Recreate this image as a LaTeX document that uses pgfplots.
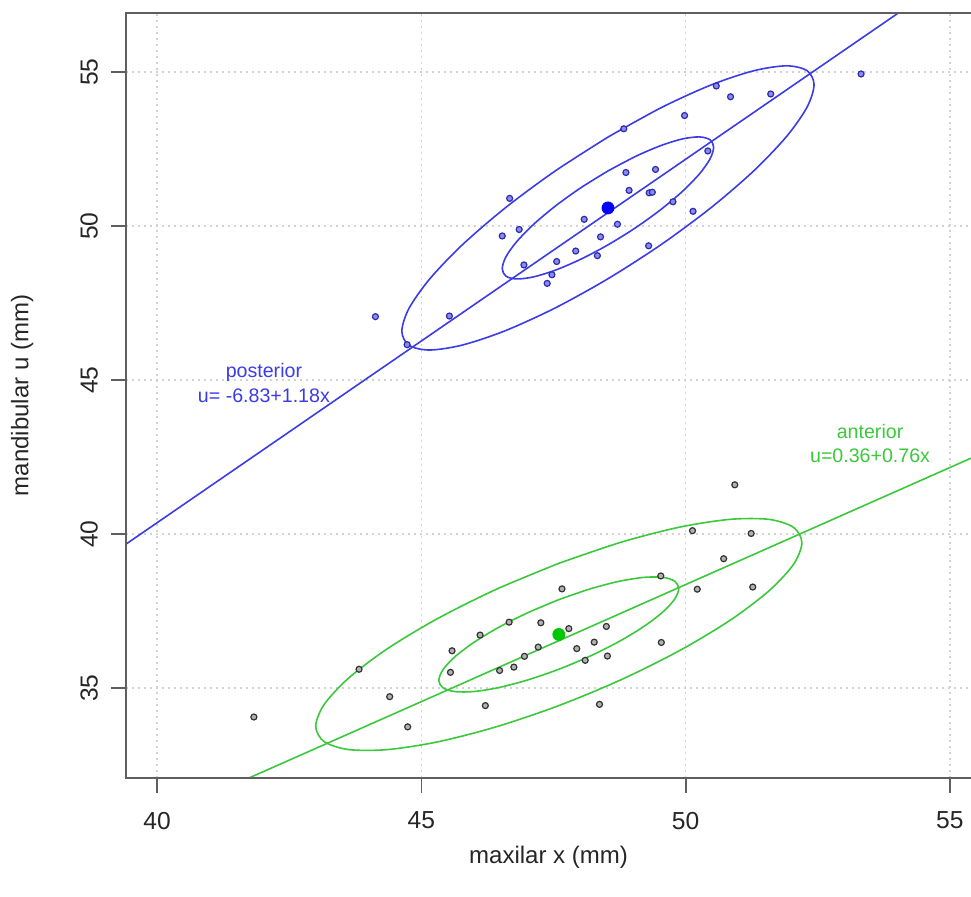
\documentclass[border=0pt]{standalone}
\usepackage{pgfplots}
\pgfplotsset{compat=1.18}
\usepackage{fontspec}
\setmainfont{Liberation Sans}
\definecolor{post}{RGB}{60,60,230}
\definecolor{postmean}{RGB}{0,0,255}
\definecolor{ant}{RGB}{60,200,60}
\definecolor{antmean}{RGB}{0,200,0}
\definecolor{frame}{RGB}{95,95,95}

\begin{document}
\begin{tikzpicture}
\begin{axis}[
  scale only axis, width=422.5pt, height=382.5pt,
  xmin=39.41, xmax=55.40, ymin=32.08, ymax=56.92,
  xtick={40,45,50,55}, ytick={35,40,45,50,55},
  xtick pos=left, ytick pos=left, tick align=outside,
  major tick length=7.5pt,
  tick style={frame, line width=0.9pt},
  axis line style={draw=none},
  grid=major,
  major grid style={gray!35, dash pattern=on 1pt off 2pt, line width=0.8pt},
  /pgf/number format/assume math mode=true,
  ticklabel style={font=\fontsize{12.3}{14}\selectfont, text=black!85},
  xticklabel style={anchor=north, yshift=-6pt},
  yticklabel style={xshift=-3pt, rotate=90, anchor=south},
  xlabel={maxilar x (mm)}, ylabel={mandibular u (mm)},
  label style={font=\fontsize{12}{14}\selectfont, text=black!85},
  xlabel style={at={(axis description cs:0.5,-0.1033)}, anchor=center},
  ylabel style={at={(axis description cs:-0.1230,0.5)}, anchor=center},
]
\coordinate (bbsw) at (rel axis cs:0,0);
\coordinate (bbne) at (rel axis cs:1,1);

% posterior group: regression line, 50% and 95% ellipses
\addplot[post, line width=0.8pt] coordinates {(39.0,39.19) (56.0,59.25)};
\addplot[post, line width=0.8pt, smooth] coordinates {
(48.530,52.890) (47.521,51.777) (46.580,50.582) (45.772,49.388) (45.153,48.276)
(44.763,47.321) (44.630,46.590) (44.763,46.131) (45.153,45.976) (45.772,46.136)
(46.580,46.598) (47.521,47.333) (48.530,48.290) (49.539,49.403) (50.480,50.598)
(51.288,51.792) (51.907,52.904) (52.297,53.859) (52.430,54.590) (52.297,55.049)
(51.907,55.204) (51.288,55.044) (50.480,54.582) (49.539,53.847) (48.530,52.890)};
\addplot[post, line width=0.8pt, smooth] coordinates {
(48.530,51.790) (48.012,51.239) (47.530,50.644) (47.116,50.046) (46.798,49.484)
(46.598,48.998) (46.530,48.620) (46.598,48.376) (46.798,48.284) (47.116,48.348)
(47.530,48.566) (48.012,48.921) (48.530,49.390) (49.048,49.941) (49.530,50.536)
(49.944,51.134) (50.262,51.696) (50.462,52.182) (50.530,52.560) (50.462,52.804)
(50.262,52.896) (49.944,52.832) (49.530,52.614) (49.048,52.259) (48.530,51.790)};

% anterior group
\addplot[ant, line width=0.8pt] coordinates {(41.0,31.52) (56.0,42.92)};
\addplot[ant, line width=0.8pt, smooth] coordinates {
(47.600,39.050) (46.409,38.200) (45.300,37.250) (44.347,36.266) (43.616,35.314)
(43.157,34.460) (43.000,33.760) (43.157,33.264) (43.616,33.004) (44.347,33.000)
(45.300,33.250) (46.409,33.738) (47.600,34.430) (48.791,35.280) (49.900,36.230)
(50.853,37.214) (51.584,38.166) (52.043,39.020) (52.200,39.720) (52.043,40.216)
(51.584,40.476) (50.853,40.480) (49.900,40.230) (48.791,39.742) (47.600,39.050)};
\addplot[ant, line width=0.8pt, smooth] coordinates {
(47.600,37.870) (47.012,37.445) (46.465,36.974) (45.995,36.485) (45.634,36.015)
(45.407,35.593) (45.330,35.250) (45.407,35.009) (45.634,34.885) (45.995,34.887)
(46.465,35.016) (47.012,35.263) (47.600,35.610) (48.188,36.035) (48.735,36.506)
(49.205,36.995) (49.566,37.465) (49.793,37.889) (49.870,38.230) (49.793,38.471)
(49.566,38.595) (49.205,38.593) (48.735,38.464) (48.188,38.217) (47.600,37.870)};

% observations
\addplot[only marks, mark=*, mark size=1.5pt,
  mark options={draw=post!75!black, fill=post!60!white, line width=0.6pt}] coordinates {
(53.32,54.94) (50.58,54.55) (50.85,54.20) (51.61,54.29) (49.98,53.59)
(48.83,53.16) (50.42,52.44) (48.87,51.74) (49.43,51.84) (48.93,51.16)
(49.31,51.08) (49.37,51.10) (49.76,50.79) (50.14,50.48) (48.08,50.22)
(48.71,50.06) (46.67,50.90) (46.85,49.89) (46.53,49.68) (48.39,49.65)
(49.30,49.36) (47.92,49.19) (48.33,49.04) (47.56,48.85) (46.94,48.74)
(47.47,48.42) (47.38,48.14) (44.13,47.06) (45.53,47.08) (44.73,46.15)};
\addplot[only marks, mark=*, mark size=1.5pt,
  mark options={draw=black!80, fill=gray!60, line width=0.6pt}] coordinates {
(50.93,41.60) (50.13,40.11) (51.24,40.02) (50.72,39.20) (49.53,38.64)
(50.22,38.21) (51.27,38.28) (47.66,38.22) (46.66,37.14) (47.26,37.12)
(47.79,36.93) (48.50,37.00) (46.11,36.72) (48.27,36.49) (47.94,36.28)
(49.54,36.48) (47.21,36.33) (46.95,36.03) (48.52,36.04) (48.10,35.90)
(45.58,36.21) (46.75,35.68) (46.48,35.57) (45.55,35.51) (43.82,35.61)
(44.40,34.72) (46.21,34.43) (48.37,34.47) (44.74,33.74) (41.83,34.06)};

% group means
\addplot[only marks, mark=*, mark size=3pt, mark options={draw=postmean, fill=postmean}]
  coordinates {(48.53,50.59)};
\addplot[only marks, mark=*, mark size=3pt, mark options={draw=antmean, fill=antmean}]
  coordinates {(47.60,36.74)};

\node[text=post, font=\fontsize{9.8}{12.5}\selectfont, align=center]
  at (axis cs:42.02,44.92) {posterior\\u= -6.83+1.18x};
\node[text=ant, font=\fontsize{9.8}{11.8}\selectfont, align=center]
  at (axis cs:53.49,42.94) {anterior\\u=0.36+0.76x};
\end{axis}
\draw[frame, line width=1.1pt] (bbne |- bbsw) -- (bbsw) -- (bbsw |- bbne) -- (bbne);
\pgfresetboundingbox
\useasboundingbox ([xshift=-63pt,yshift=-59.5pt]bbsw) rectangle ([yshift=6.5pt]bbne);
\end{tikzpicture}
\end{document}
